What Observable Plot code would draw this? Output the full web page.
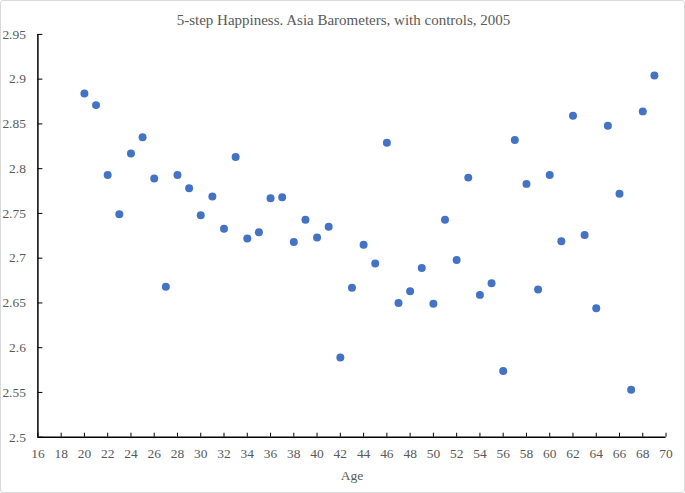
<!DOCTYPE html>
<html>
<head>
<meta charset="utf-8">
<script src="https://cdn.jsdelivr.net/npm/d3@7"></script>
<script src="https://cdn.jsdelivr.net/npm/@observablehq/plot@0.6"></script>
<style>
  html, body { margin: 0; padding: 0; background: #fff; }
  #chart { position: relative; width: 685px; height: 493px; box-sizing: border-box; border: 1px solid #d9d9d9; border-radius: 3px; overflow: hidden; }
  #title { position: absolute; left: 0; top: 11px; width: 685px; text-align: center; font-family: "Liberation Serif", "Times New Roman", serif; font-size: 15px; color: #595959; }
  #chart svg { position: absolute; left: -1px; top: -1px; }
</style>
</head>
<body>
<div id="chart"><div id="title">5-step Happiness. Asia Barometers, with controls, 2005</div></div>
<script>
const ages = [20,21,22,23,24,25,26,27,28,29,30,31,32,33,34,35,36,37,38,39,40,41,42,43,44,45,46,47,48,49,50,51,52,53,54,55,56,57,58,59,60,61,62,63,64,65,66,67,68,69];
const happiness = [2.884,2.871,2.793,2.749,2.817,2.835,2.789,2.668,2.793,2.778,2.748,2.769,2.733,2.813,2.722,2.729,2.767,2.768,2.718,2.743,2.723,2.735,2.589,2.667,2.715,2.694,2.829,2.650,2.663,2.689,2.649,2.743,2.698,2.790,2.659,2.672,2.574,2.832,2.783,2.665,2.793,2.719,2.859,2.726,2.644,2.848,2.772,2.553,2.864,2.904];
const xTicks = d3.range(16, 71, 2);
const yTicks = [2.5,2.55,2.6,2.65,2.7,2.75,2.8,2.85,2.9,2.95];

const data = ages.map((a, i) => ({age: a, value: happiness[i]}));

const chart = Plot.plot({
  width: 685,
  height: 493,
  marginLeft: 37.5,
  marginRight: 17.5,
  marginTop: 34,
  marginBottom: 55,
  style: {fontFamily: "'Liberation Serif', 'Times New Roman', serif", fontSize: "13.5px", color: "#595959", background: "transparent"},
  x: {domain: [16, 70]},
  y: {domain: [2.5, 2.95]},
  marks: [
    Plot.axisX({ticks: xTicks, tickSize: -4, tickPadding: 15, tickFormat: d => String(d), stroke: "#000", fill: "#595959", label: null}),
    Plot.axisY({ticks: yTicks, tickSize: -5, tickPadding: 17, tickFormat: d => String(d), stroke: "#000", fill: "#595959", label: null}),
    Plot.ruleX([16], {stroke: "#000", strokeWidth: 1.5}),
    Plot.ruleY([2.5], {stroke: "#000", strokeWidth: 1.5}),
    Plot.text(["Age"], {frameAnchor: "bottom", dy: 43, fill: "#595959", fontSize: 13.5}),
    Plot.dot(data, {x: "age", y: "value", r: 4, fill: "#4472C4"})
  ]
});
document.getElementById("chart").appendChild(chart);
</script>
</body>
</html>
